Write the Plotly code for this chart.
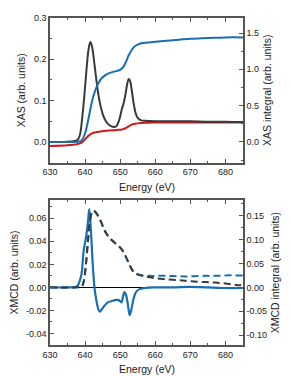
import plotly.graph_objects as go

# ---------------- data ----------------
# Top panel: XAS (left axis) and XAS integral (right axis)
E_xas = [630, 634, 637, 638, 638.6, 639.2, 639.8, 640.4, 641.0, 641.5, 642.0, 642.5, 643.0, 643.6,
         644.2, 645.0, 645.8, 646.6, 647.4, 648.2, 648.9, 649.5, 650.0, 650.5, 651.0, 651.5, 652.0,
         652.4, 652.8, 653.3, 653.8, 654.4, 655.0, 656, 657, 660, 665, 670, 675, 680, 685]
xas = [0.0, 0.0, 0.002, 0.006, 0.02, 0.06, 0.113, 0.175, 0.225, 0.242, 0.230, 0.200, 0.165, 0.125,
       0.095, 0.068, 0.052, 0.043, 0.038, 0.036, 0.038, 0.048, 0.062, 0.080, 0.094, 0.115, 0.140,
       0.152, 0.148, 0.125, 0.095, 0.070, 0.058, 0.052, 0.051, 0.050, 0.050, 0.050, 0.049, 0.049, 0.048]

E_bg = [630, 635, 637.5, 639.0, 640.0, 640.8, 641.6, 642.5, 643.6, 646, 649, 650.5, 651.5, 652.3,
        653.1, 654.2, 656, 660, 670, 685]
xas_bg = [-0.010, -0.008, -0.006, -0.002, 0.006, 0.0136, 0.019, 0.022, 0.024, 0.027, 0.029, 0.030,
          0.033, 0.037, 0.041, 0.044, 0.046, 0.047, 0.047, 0.047]

E_int = [630, 636, 638, 639, 640, 640.8, 641.5, 642.2, 642.9, 643.7, 644.6, 645.5, 646.5, 648, 649.3,
         650.2, 651, 651.7, 652.4, 653.2, 654, 655, 656, 658, 660, 665, 670, 675, 680, 685]
xas_int = [0.0, 0.0, 0.003, 0.02, 0.12, 0.28, 0.45, 0.60, 0.71, 0.80, 0.87, 0.91, 0.94, 0.965, 0.98,
           1.0, 1.04, 1.11, 1.19, 1.26, 1.31, 1.34, 1.36, 1.37, 1.38, 1.40, 1.42, 1.43, 1.44, 1.44]

# Bottom panel: XMCD (left axis) and XMCD integrals (right axis)
E_xmcd = [630, 635, 637.5, 638.0, 638.5, 639.0, 639.6, 640.3, 640.8, 641.2, 641.7, 642.2, 642.7, 643.2,
          643.6, 644.1, 644.8, 645.5, 646.5, 647.5, 648.5, 649.5, 650.0, 650.4, 650.8, 651.2, 651.7,
          652.2, 652.7, 653.2, 653.8, 654.5, 655.5, 657, 660, 665, 670, 675, 680, 685]
xmcd = [0.0, 0.0, 0.0005, 0.002, 0.006, 0.012, 0.032, 0.044, 0.056, 0.068, 0.047, 0.019, -0.001, -0.011,
        -0.017, -0.021, -0.019, -0.016, -0.013, -0.012, -0.011, -0.011, -0.012, -0.013, -0.008, -0.004,
        -0.007, -0.015, -0.024, -0.019, -0.010, -0.004, -0.0015, -0.0005, 0.0, 0.0, 0.0005, 0.0, -0.0005, -0.0005]

E_mint = [630, 638, 639.0, 639.6, 640.2, 640.8, 641.4, 642.0, 642.4, 643.0, 643.6, 644.5, 645.5, 646.5,
          647.4, 648.5, 649.5, 650.5, 651.2, 652.0, 652.8, 653.6, 654.4, 655.2, 656.5, 658.5, 660, 663,
          667, 670, 674, 677, 680, 683, 685]
xmcd_int_black = [0, 0, 0.001, 0.012, 0.045, 0.095, 0.140, 0.158, 0.160, 0.157, 0.151, 0.138, 0.120,
                  0.108, 0.100, 0.093, 0.087, 0.079, 0.070, 0.058, 0.045, 0.034, 0.029, 0.026, 0.024,
                  0.021, 0.019, 0.017, 0.015, 0.013, 0.011, 0.010, 0.008, 0.005, 0.004]
xmcd_int_blue = [0, 0, 0.001, 0.012, 0.045, 0.095, 0.140, 0.158, 0.160, 0.157, 0.151, 0.138, 0.120,
                 0.108, 0.100, 0.093, 0.087, 0.079, 0.070, 0.058, 0.045, 0.035, 0.030, 0.027, 0.025,
                 0.024, 0.024, 0.024, 0.023, 0.023, 0.024, 0.024, 0.025, 0.025, 0.025]

x_ticks = [630, 640, 650, 660, 670, 680]
y1_ticks = [0.0, 0.1, 0.2, 0.3]
y1_text = ["0.0", "0.1", "0.2", "0.3"]
y2_ticks = [0.0, 0.5, 1.0, 1.5]
y2_text = ["0.0", "0.5", "1.0", "1.5"]
y3_ticks = [-0.04, -0.02, 0.0, 0.02, 0.04, 0.06]
y3_text = ["-0.04", "-0.02", "0.00", "0.02", "0.04", "0.06"]
y4_ticks = [-0.10, -0.05, 0.0, 0.05, 0.10, 0.15]
y4_text = ["-0.10", "-0.05", "0.00", "0.05", "0.10", "0.15"]
x_title = "Energy (eV)"

# ---------------- style ----------------
BLACK = "#3a3a3a"
BLUE = "#1a6fb3"
RED = "#d0181c"
AX = "#555555"
FONT = "Liberation Sans, Arial, sans-serif"

fig = go.Figure()
fig.add_trace(go.Scatter(x=E_bg, y=xas_bg, mode="lines", line=dict(color=RED, width=2, shape="spline"),
                         xaxis="x", yaxis="y"))
fig.add_trace(go.Scatter(x=E_xas, y=xas, mode="lines", line=dict(color=BLACK, width=2, shape="spline"),
                         xaxis="x", yaxis="y"))
fig.add_trace(go.Scatter(x=E_int, y=xas_int, mode="lines", line=dict(color=BLUE, width=2, shape="spline"),
                         xaxis="x", yaxis="y2"))

fig.add_trace(go.Scatter(x=E_mint, y=xmcd_int_blue, mode="lines",
                         line=dict(color=BLUE, width=2, dash="7px,4px", shape="spline"),
                         xaxis="x2", yaxis="y4"))
fig.add_trace(go.Scatter(x=E_mint, y=xmcd_int_black, mode="lines",
                         line=dict(color=BLACK, width=2, dash="7px,4px", shape="spline"),
                         xaxis="x2", yaxis="y4"))
fig.add_trace(go.Scatter(x=E_xmcd, y=xmcd, mode="lines", line=dict(color=BLUE, width=2.2, shape="spline"),
                         xaxis="x2", yaxis="y3"))

tickfont = dict(family=FONT, size=9, color="#222")
titlefont = dict(family=FONT, size=10.5, color="#222")

def xax(anchor):
    return dict(anchor=anchor, domain=[0, 1], range=[630, 685], tickvals=x_ticks,
                ticks="inside", ticklen=4, tickcolor=AX, showline=True, linecolor=AX, linewidth=1.5,
                mirror="ticks", showgrid=False, zeroline=False,
                minor=dict(dtick=5, tick0=630, ticks="inside", ticklen=2, tickcolor=AX),
                tickfont=tickfont)

def yax(dom, rng, tv, tt, title, side="left", overlay=None, anchor=None, minor_dt=None, zero=False):
    d = dict(domain=dom, range=rng, tickvals=tv, ticktext=tt, side=side,
             ticks="inside", ticklen=4, tickcolor=AX, showline=True, linecolor=AX, linewidth=1.5,
             showgrid=False, zeroline=zero, zerolinecolor="#000000", zerolinewidth=1,
             minor=dict(dtick=minor_dt, tick0=0, ticks="inside", ticklen=2, tickcolor=AX),
             tickfont=tickfont, title=dict(text=title, font=titlefont, standoff=6))
    if overlay:
        d["overlaying"] = overlay
    if anchor:
        d["anchor"] = anchor
    return d

top = [0.558, 1.0]
bot = [0.0, 0.4428]

fig.update_layout(
    width=291, height=376,
    margin=dict(l=42, r=56, t=5, b=39),
    paper_bgcolor="white", plot_bgcolor="white",
    showlegend=False,
    font=dict(family=FONT, color="#222"),
    xaxis=xax("y"),
    xaxis2=xax("y3"),
    yaxis=yax(top, [-0.05, 0.3], y1_ticks, y1_text, "XAS (arb. units)", minor_dt=0.05, anchor="x"),
    yaxis2=yax(top, [-0.284, 1.707], y2_ticks, y2_text, "XAS integral (arb. units)", side="right",
               overlay="y", anchor="x", minor_dt=0.25),
    yaxis3=yax(bot, [-0.05, 0.0757], y3_ticks, y3_text, "XMCD (arb. units)", minor_dt=0.01,
               anchor="x2", zero=True),
    yaxis4=yax(bot, [-0.1207, 0.1824], y4_ticks, y4_text, "XMCD integral (arb. units)", side="right",
               overlay="y3", anchor="x2", minor_dt=0.025),
)

for ydom in (top[0], bot[0]):
    fig.add_annotation(text=x_title, xref="paper", yref="paper", x=0.5, y=ydom,
                       xanchor="center", yanchor="top", yshift=-16, showarrow=False,
                       font=titlefont)

fig.write_html("out.html")
